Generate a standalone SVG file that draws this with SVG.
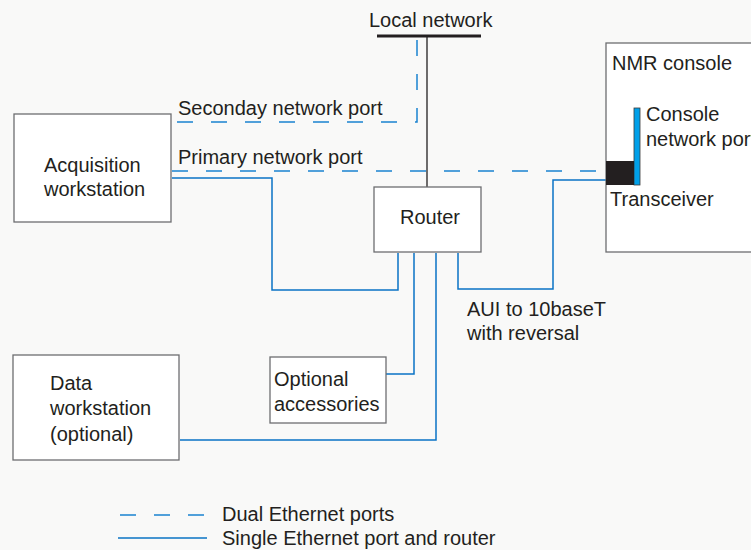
<svg xmlns="http://www.w3.org/2000/svg" width="751" height="550" viewBox="0 0 751 550">
<style>
text{font-family:"Liberation Sans",Arial,sans-serif;font-size:20px;fill:#231f20}
.box{fill:#fff;stroke:#6d6e70;stroke-width:1.3}
.s{fill:none;stroke:#0a73c5;stroke-width:1.5}
.d{fill:none;stroke:#1a82cf;stroke-width:1.5;stroke-dasharray:16 18}
.k{fill:none;stroke:#231f20;stroke-width:1.3}
</style>
<rect width="751" height="550" fill="#f9f9f8"/>
<g id="local-network">
<line x1="377" y1="36" x2="481" y2="36" stroke="#231f20" stroke-width="3"/>
<text x="369" y="27">Local network</text>
</g>
<g id="connectors">
<line class="k" x1="427" y1="37" x2="427" y2="187"/>
<path class="d" d="M417,40 V122 H172"/>
<path class="d" d="M172,171 H606"/>
<path class="s" d="M172,178 H272 V290 H398 V253"/>
<path class="s" d="M414,253 V374 H386"/>
<path class="s" d="M436,253 V440 H180"/>
<path class="s" d="M458,253 V289 H553 V180 H606"/>
</g>
<g id="acquisition">
<rect class="box" x="14" y="114" width="157" height="108"/>
<text x="44" y="172">Acquisition</text>
<text x="44" y="196">workstation</text>
<text x="178" y="115">Seconday network port</text>
<text x="178" y="164">Primary network port</text>
</g>
<g id="router">
<rect class="box" x="374" y="187" width="107" height="65"/>
<text x="400" y="224">Router</text>
</g>
<g id="optional-accessories">
<rect class="box" x="270" y="357" width="116" height="66"/>
<text x="274" y="386">Optional</text>
<text x="274" y="411">accessories</text>
</g>
<g id="data-workstation">
<rect class="box" x="13" y="355" width="166" height="105"/>
<text x="50" y="390">Data</text>
<text x="50" y="415">workstation</text>
<text x="50" y="441">(optional)</text>
</g>
<g id="nmr-console">
<rect class="box" x="606" y="43" width="150" height="209"/>
<text x="612" y="70">NMR console</text>
<rect x="634" y="108" width="6" height="77" fill="#00a0e9" stroke="#3a3a3a" stroke-width="0.8"/>
<rect x="606" y="161" width="28" height="24" fill="#231f20"/>
<text x="646" y="121">Console</text>
<text x="646" y="146">network port</text>
<text x="610" y="206">Transceiver</text>
</g>
<g id="aui-label">
<text x="467" y="316">AUI to 10baseT</text>
<text x="467" y="340">with reversal</text>
</g>
<g id="legend">
<line class="d" x1="120" y1="515" x2="207" y2="515"/>
<line class="s" x1="118" y1="538" x2="207" y2="538"/>
<text x="222" y="521">Dual Ethernet ports</text>
<text x="222" y="545">Single Ethernet port and router</text>
</g>
</svg>
